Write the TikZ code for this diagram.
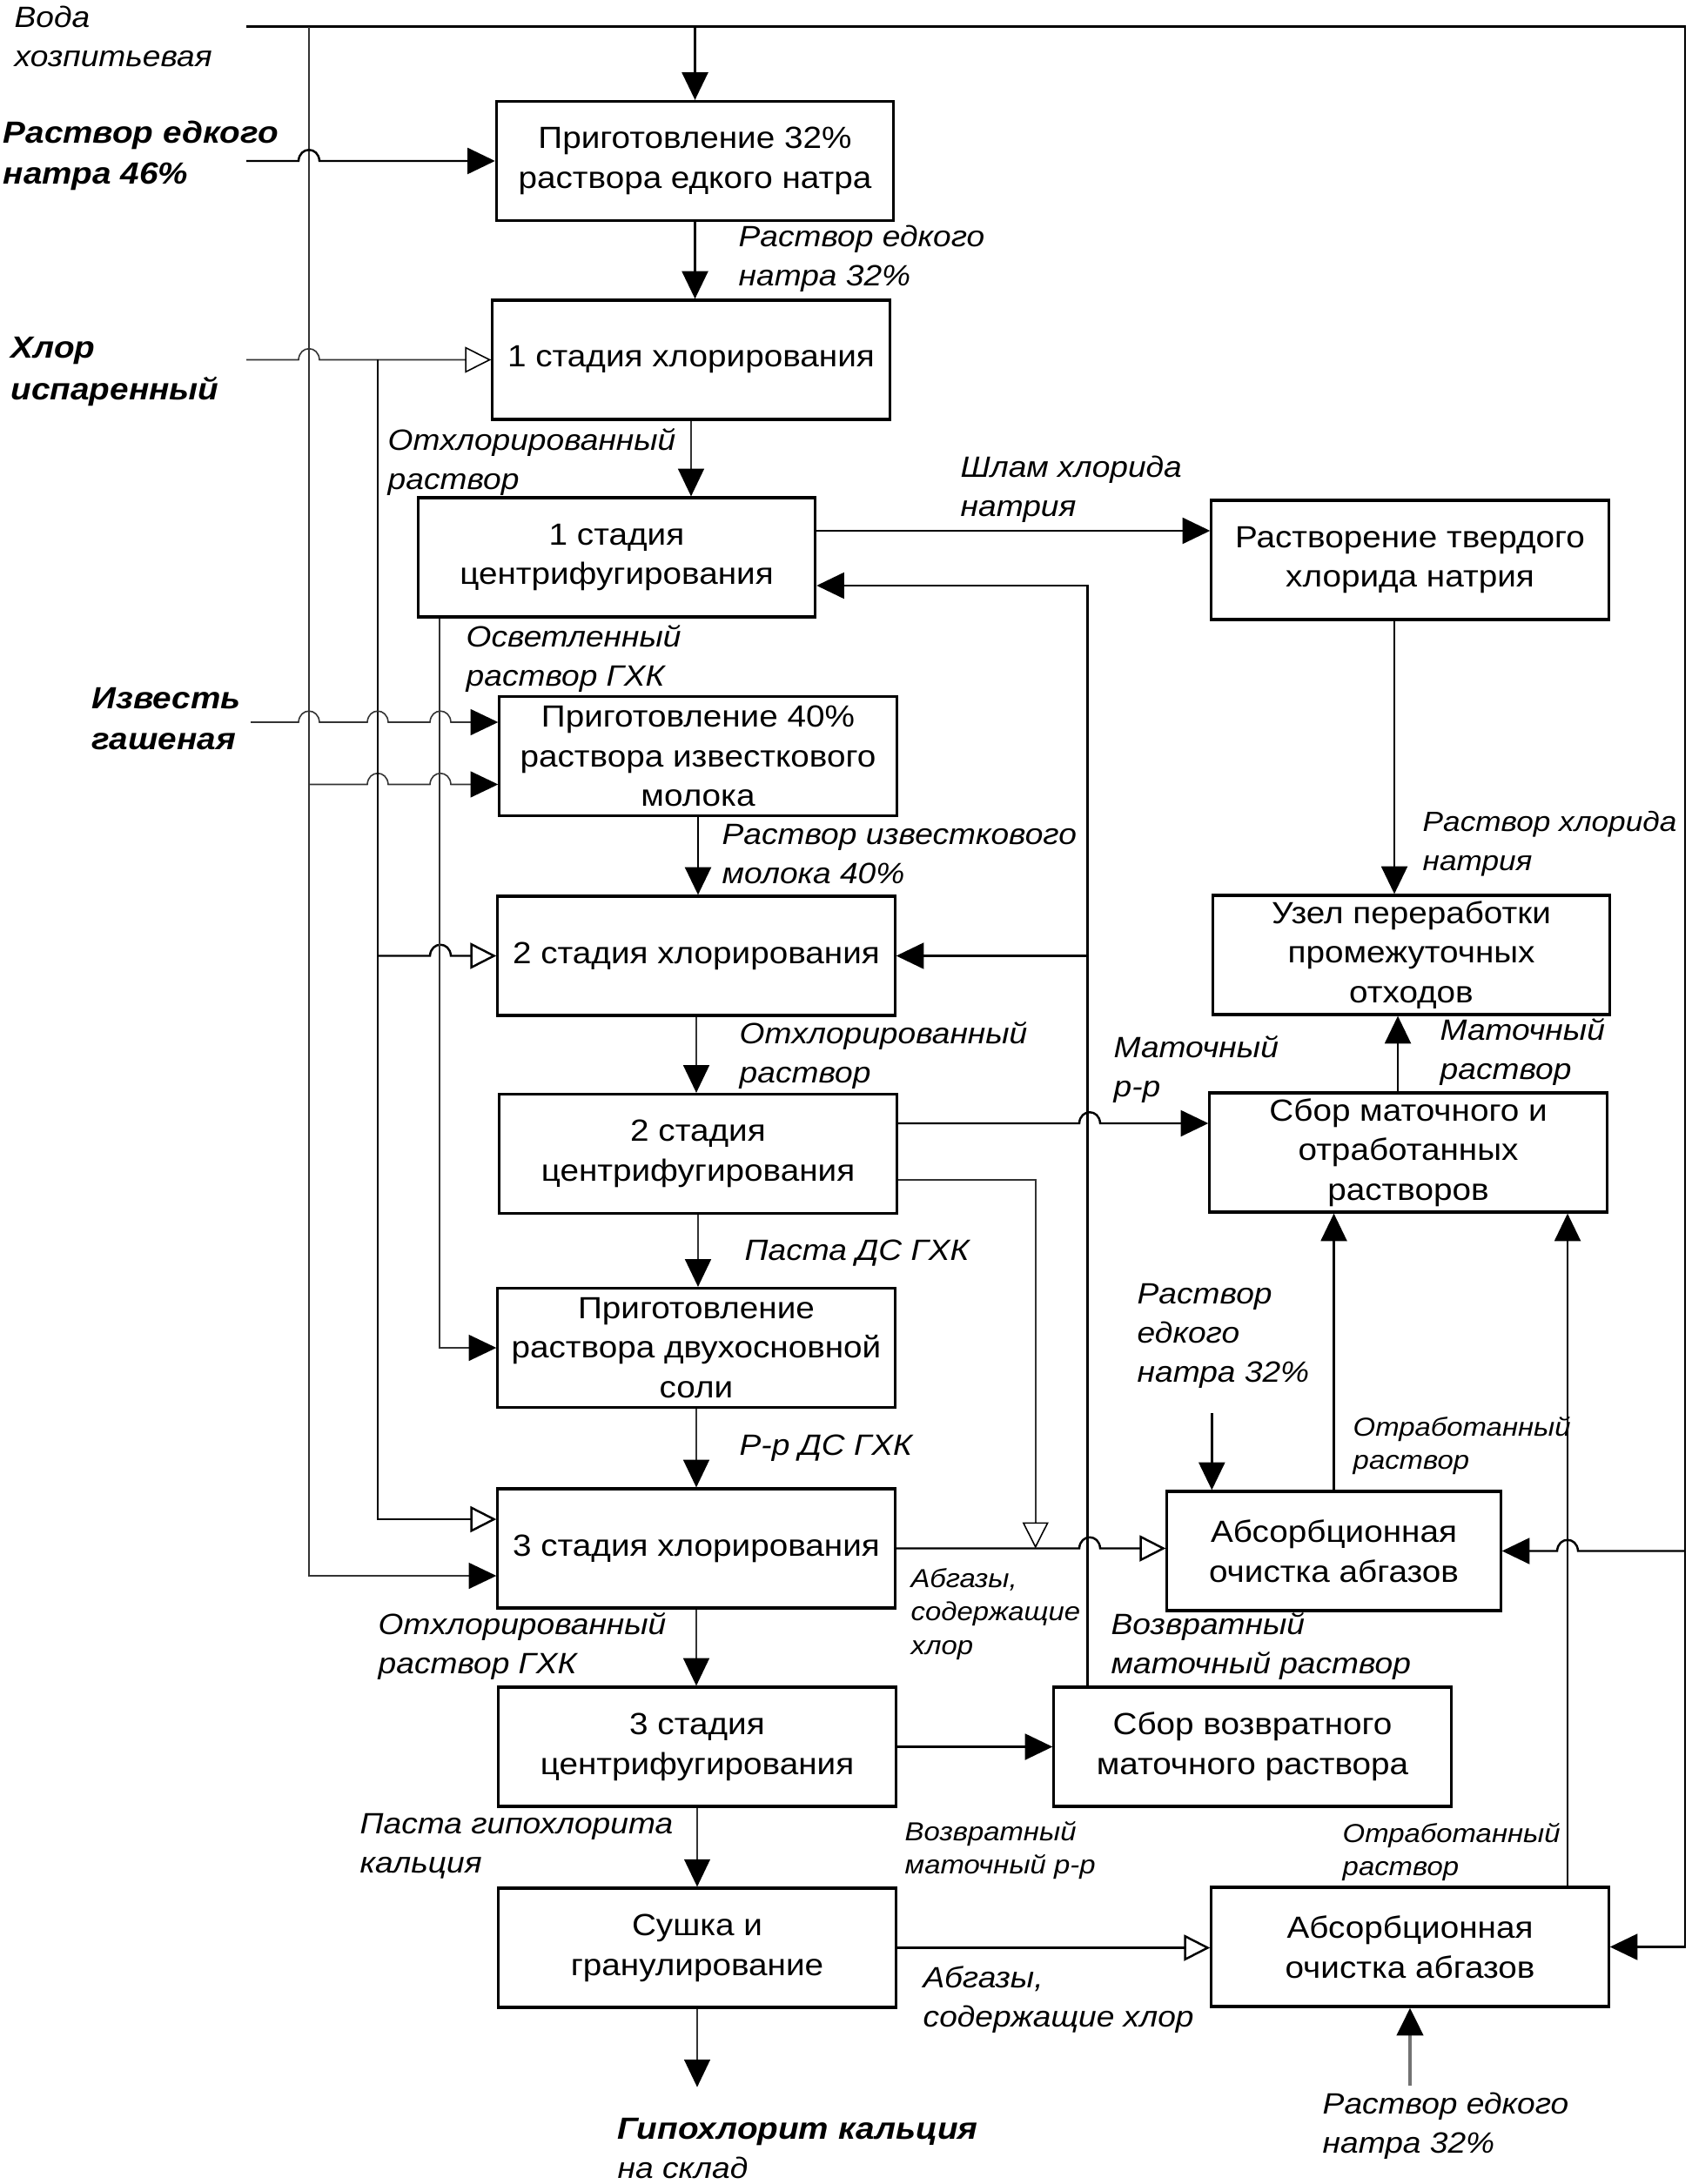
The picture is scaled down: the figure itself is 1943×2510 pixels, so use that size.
\documentclass[tikz,border=0pt]{standalone}
\usepackage{fontspec}
\setmainfont{Liberation Sans}[FakeStretch=1.1]
\usetikzlibrary{arrows.meta,calc}
\newcommand\hopr[2]{-- ({#1-12},#2) .. controls ({#1-11},{#2-17}) and ({#1+11},{#2-17}) .. ({#1+12},#2)}
\newcommand\hopl[2]{-- ({#1+12},#2) .. controls ({#1+11},{#2-17}) and ({#1-11},{#2-17}) .. ({#1-12},#2)}
\begin{document}
\begin{tikzpicture}[x=0.01cm,y=-0.01cm,
  box/.style={draw, line width=0.9pt, minimum width=4.56cm, minimum height=1.37cm, align=center, inner sep=0pt, font=\fontsize{10}{13}\selectfont},
  ln/.style={line width=0.7pt},
  thn/.style={line width=0.45pt, black!80},
  fa/.style={-{Triangle[length=9pt,width=8.5pt,black]}},
  oa/.style={-{Triangle[open,length=8.5pt,width=8.5pt,fill=white,black]}},
  lbl/.style={anchor=west, align=left, inner sep=0pt, font=\itshape\fontsize{9.6}{12.8}\selectfont},
  slbl/.style={anchor=west, align=left, inner sep=0pt, font=\itshape\fontsize{8.5}{11}\selectfont},
  blbl/.style={anchor=west, align=left, inner sep=0pt, font=\bfseries\itshape\fontsize{10}{13.4}\selectfont},
]
\useasboundingbox (0,0) rectangle (1943,2510);

% boxes
\node[box] (B1) at (798.5,185) {Приготовление 32\%\\раствора едкого натра};
\node[box] (B2) at (794,413.5) {1 стадия хлорирования};
\node[box] (B3) at (708.5,640.5) {1 стадия\\центрифугирования};
\node[box] (B4) at (802,869) {Приготовление 40\%\\раствора известкового\\молока};
\node[box] (B5) at (800,1098.5) {2 стадия хлорирования};
\node[box] (B6) at (802,1326) {2 стадия\\центрифугирования};
\node[box] (B7) at (800,1549) {Приготовление\\раствора двухосновной\\соли};
\node[box] (B8) at (800,1779.5) {3 стадия хлорирования};
\node[box] (B9) at (801,2007.5) {3 стадия\\центрифугирования};
\node[box] (B10) at (801,2238.5) {Сушка и\\гранулирование};
\node[box] (R1) at (1620,643.5) {Растворение твердого\\хлорида натрия};
\node[box] (R2) at (1621.5,1097.5) {Узел переработки\\промежуточных\\отходов};
\node[box] (R3) at (1618,1324.5) {Сбор маточного и\\отработанных\\растворов};
\node[box, minimum width=3.83cm] (R4) at (1532.5,1782.5) {Абсорбционная\\очистка абгазов};
\node[box] (R5) at (1439,2007.5) {Сбор возвратного\\маточного раствора};
\node[box] (R6) at (1620,2237.5) {Абсорбционная\\очистка абгазов};

% coordinates
\coordinate (W0) at (283,30.6);
\coordinate (WR) at (1936,30.6);
\coordinate (V1) at (355,30.6);
\coordinate (N0) at (283,185);
\coordinate (C0) at (283,413.5);
\coordinate (CJ) at (434,413.5);
\coordinate (L0) at (288,830);
\coordinate (B4up) at ($(B4.west)+(0,-39)$);
\coordinate (B4lo) at ($(B4.west)+(0,32.5)$);
\coordinate (B8up) at ($(B8.west)+(0,-33.5)$);
\coordinate (B8lo) at ($(B8.west)+(0,31.5)$);
\coordinate (V3) at ($(B3.south west)+(26,0)$);
\coordinate (R1w) at ($(R1.west)+(0,-33.5)$);
\coordinate (B3ret) at ($(B3.east)+(0,32.5)$);
\coordinate (V5) at ($(R5.north west)+(40,0)$);
\coordinate (R3w) at ($(R3.west)+(0,-33.5)$);
\coordinate (B6lo) at ($(B6.east)+(0,30)$);
\coordinate (V6) at ($(B6lo)+(158,0)$);
\coordinate (R1s) at ($(R1.south)+(-18,0)$);
\coordinate (R3n) at ($(R3.north)+(-12,0)$);
\coordinate (Q0) at ($(R4.north west)+(53,-88)$);
\coordinate (R6n) at ($(R6.north)+(181,0)$);
\coordinate (P0) at ($(R6.south)+(0,89)$);
\coordinate (Out) at ($(B10.south)+(8,90)$);

% water
\draw[ln,fa] (W0) -- (WR) -- (WR |- R6.east) -- (R6.east);
\draw[ln,fa] (B1.north |- W0) -- (B1.north);
\draw[ln,fa] (WR |- R4.east) \hopl{1801}{1782.5} -- (R4.east);
\draw[thn,fa] (V1) -- (V1 |- B8lo) -- (B8lo);
\draw[thn,fa] (V1 |- B4lo) \hopr{434}{901.5} \hopr{506}{901.5} -- (B4lo);

% NaOH 46
\draw[ln,fa] (N0) \hopr{355}{185} -- (B1.west);

% chlorine
\draw[thn,oa] (C0) \hopr{355}{413.5} -- (B2.west);
\draw[ln,oa] (CJ) -- (CJ |- B8up) -- (B8up);
\draw[ln,oa] (CJ |- B5.west) \hopr{506}{1098.5} -- (B5.west);

% clarified solution
\draw[thn,fa] (V3) -- (V3 |- B7.west) -- (B7.west);

% lime
\draw[thn,fa] (L0) \hopr{355}{830} \hopr{434}{830} \hopr{506}{830} -- (B4up);

% main column
\draw[ln,fa] (B1.south) -- (B1.south |- B2.north);
\draw[thn,fa] (B2.south) -- (B2.south |- B3.north);
\draw[ln,fa] (B4.south) -- (B4.south |- B5.north);
\draw[thn,fa] (B5.south) -- (B5.south |- B6.north);
\draw[thn,fa] (B6.south) -- (B6.south |- B7.north);
\draw[thn,fa] (B7.south) -- (B7.south |- B8.north);
\draw[thn,fa] (B8.south) -- (B8.south |- B9.north);
\draw[thn,fa] (B9.south) -- (B9.south |- B10.north);
\draw[thn,fa] (B10.south) -- (B10.south |- Out);

% right side
\draw[ln,fa] (B3.east |- R1w) -- (R1w);
\draw[ln,fa] (V5) -- (V5 |- B3ret) -- (B3ret);
\draw[ln,fa] (V5 |- B5.east) -- (B5.east);
\draw[ln,fa] (B6.east |- R3w) \hopr{1252}{1291} -- (R3w);
\draw[thn,oa] (B6lo) -- (V6) -- (V6 |- B8.east);
\draw[ln,oa] (B8.east) \hopr{1252}{1779.5} -- (R4.west |- B8.east);
\draw[ln,fa] (R1s) -- (R1s |- R2.north);
\draw[ln,fa] (R3n) -- (R3n |- R2.south);
\draw[ln,fa] (R4.north) -- (R4.north |- R3.south);
\draw[ln,fa] (Q0) -- (Q0 |- R4.north);
\draw[ln,fa] (R6n) -- (R6n |- R3.south);
\draw[ln,fa] (B9.east) -- (R5.west);
\draw[ln,oa] (B10.east) -- (R6.west |- B10.east);
\draw[line width=1.3pt, black!55, fa] (P0) -- (R6.south);

% labels
\node[lbl] (tW) at (16,41.5) {Вода\\хозпитьевая};
\node[blbl] (tN46) at (3,178.5) {Раствор едкого\\натра 46\%};
\node[lbl] (tN32a) at (848,297.5) {Раствор едкого\\натра 32\%};
\node[blbl] (tCl) at (12,427) {Хлор\\испаренный};
\node[lbl] (tO1) at (445,531.5) {Отхлорированный\\раствор};
\node[lbl] (tSh) at (1103,562) {Шлам хлорида\\натрия};
\node[lbl] (tOs) at (535,757.5) {Осветленный\\раствор ГХК};
\node[blbl] (tIz) at (105,826) {Известь\\гашеная};
\node[lbl] (tRI) at (829,982) {Раствор известкового\\молока 40\%};
\node[lbl, font=\itshape\fontsize{9.1}{12.8}\selectfont] (tRH) at (1634,969.5) {Раствор хлорида\\натрия};
\node[lbl] (tO2) at (849,1213.5) {Отхлорированный\\раствор};
\node[lbl] (tMr) at (1279,1229) {Маточный\\р-р};
\node[lbl] (tMR) at (1654,1209.5) {Маточный\\раствор};
\node[lbl] (tPD) at (855,1440) {Паста ДС ГХК};
\node[lbl] (tN32b) at (1306,1535) {Раствор\\едкого\\натра 32\%};
\node[lbl] (tRD) at (849,1664) {Р-р ДС ГХК};
\node[slbl] (tOt1) at (1554,1661.5) {Отработанный\\раствор};
\node[slbl] (tAb1) at (1046,1855) {Абгазы,\\содержащие\\хлор};
\node[lbl] (tVM) at (1276,1892) {Возвратный\\маточный раствор};
\node[lbl] (tO3) at (434,1892) {Отхлорированный\\раствор ГХК};
\node[lbl] (tPG) at (413,2122) {Паста гипохлорита\\кальция};
\node[slbl] (tVr) at (1039,2126.5) {Возвратный\\маточный р-р};
\node[slbl] (tOt2) at (1542,2128.5) {Отработанный\\раствор};
\node[lbl] (tAb2) at (1060,2298) {Абгазы,\\содержащие хлор};
\node[lbl] (tGK) at (709,2469) {{\bfseries\fontsize{10}{12.8}\selectfont Гипохлорит кальция}\\на склад};
\node[lbl] (tN32c) at (1519,2443.5) {Раствор едкого\\натра 32\%};
\end{tikzpicture}
\end{document}
